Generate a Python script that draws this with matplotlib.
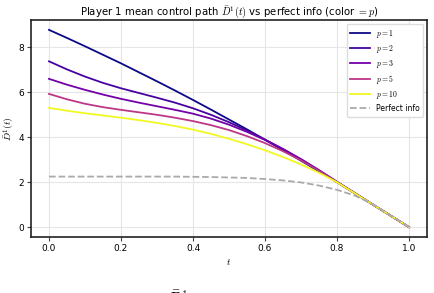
import matplotlib
matplotlib.use('Agg')
import matplotlib.pyplot as plt
import numpy as np

plt.rcParams['mathtext.fontset'] = 'cm'
plt.rcParams['font.family'] = ['DejaVu Sans']

# time grid and mean control paths
t = [0.0, 0.05, 0.1, 0.15, 0.2, 0.25, 0.3, 0.35, 0.4, 0.45, 0.5,
     0.55, 0.6, 0.65, 0.7, 0.75, 0.8, 0.85, 0.9, 0.95, 1.0]
p_values = [1, 2, 3, 5, 10]
D_p1 = [8.78, 8.42, 8.05, 7.67, 7.29, 6.89, 6.49, 6.08, 5.66, 5.23, 4.79,
        4.35, 3.89, 3.43, 2.96, 2.48, 2.00, 1.50, 1.00, 0.50, 0.0]
D_p2 = [7.38, 7.02, 6.70, 6.42, 6.18, 5.97, 5.76, 5.54, 5.29, 5.00, 4.67,
        4.30, 3.90, 3.47, 3.01, 2.52, 2.01, 1.51, 1.00, 0.50, 0.0]
D_p3 = [6.60, 6.34, 6.11, 5.90, 5.71, 5.54, 5.38, 5.22, 5.05, 4.83, 4.56,
        4.24, 3.88, 3.48, 3.03, 2.54, 2.02, 1.51, 1.00, 0.50, 0.0]
D_p5 = [5.93, 5.69, 5.49, 5.34, 5.22, 5.11, 5.00, 4.87, 4.72, 4.54, 4.32,
        4.05, 3.74, 3.38, 2.97, 2.51, 2.01, 1.50, 1.00, 0.50, 0.0]
D_p10 = [5.31, 5.18, 5.07, 4.97, 4.87, 4.76, 4.64, 4.50, 4.34, 4.15, 3.93,
         3.69, 3.42, 3.12, 2.79, 2.42, 2.00, 1.50, 1.00, 0.50, 0.0]
D_perfect = [2.25, 2.25, 2.25, 2.25, 2.25, 2.25, 2.25, 2.25, 2.24, 2.23, 2.21,
             2.19, 2.14, 2.08, 1.99, 1.85, 1.66, 1.40, 1.02, 0.51, 0.0]

paths = [D_p1, D_p2, D_p3, D_p5, D_p10]
cmap = plt.get_cmap('plasma')

fig = plt.figure(figsize=(4.34, 2.93), dpi=100)
ax = fig.add_axes([31 / 434, 1 - 237 / 293, 396 / 434, 217 / 293])

for p, path in zip(p_values, paths):
    ax.plot(t, path, color=cmap((p - 1) / 9), lw=1.3, label=r'$p=%d$' % p)
ax.plot(t, D_perfect, '--', color='#aaaaaa', lw=1.3, label='Perfect info')

ax.grid(True, color='#e6e6e6', lw=0.8)
ax.set_axisbelow(True)
for s in ax.spines.values():
    s.set_color('#222222')
    s.set_linewidth(1.2)
ax.tick_params(labelsize=6.5, length=3, width=0.8, color='#444444', pad=2)
ax.set_xlabel(r'$t$', fontsize=7, labelpad=3)
ax.set_ylabel(r'$\bar{D}^1(t)$', fontsize=7, labelpad=1)
ax.set_title(r'Player 1 mean control path $\bar{D}^1(t)$ vs perfect info (color $=p$)',
             fontsize=7.3, pad=4)
ax.legend(loc='upper right', fontsize=5.5, framealpha=1, edgecolor='#dddddd',
          handlelength=2.5, borderpad=0.5, labelspacing=0.4)

# stray label peeking in at the bottom edge
fig.text(0.385, -0.042, r'$\bar{D}^1$', fontsize=12)

fig.savefig('out.png', dpi=100)
